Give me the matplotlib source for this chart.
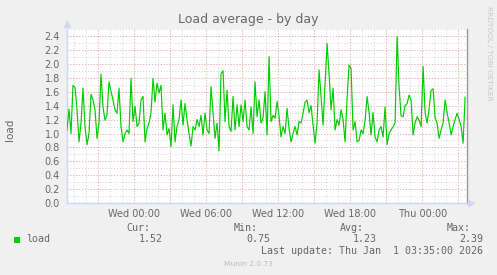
import matplotlib
matplotlib.use("Agg")
import matplotlib.pyplot as plt
import numpy as np

# ---- data (10-minute samples, hours relative to Wed 00:00) ----
start_hour = -5.6
step_hours = 1.0 / 6.0
load = [
    1.05, 1.35, 1.00, 1.69, 1.66, 1.34, 0.88, 1.15, 1.65, 1.10,
    0.84, 1.00, 1.56, 1.48, 1.34, 0.93, 1.15, 1.85, 1.38, 1.19,
    1.27, 1.74, 1.60, 1.48, 1.34, 1.29, 1.65, 1.10, 0.88, 1.00,
    1.05, 1.00, 1.79, 1.17, 1.39, 1.10, 1.15, 1.48, 1.53, 0.88,
    1.07, 1.15, 1.30, 1.79, 1.45, 1.72, 1.58, 1.69, 1.05, 1.29,
    0.98, 1.07, 0.81, 1.41, 0.88, 1.10, 1.20, 1.48, 1.12, 1.43,
    1.20, 1.00, 0.82, 1.10, 1.05, 1.20, 1.10, 1.26, 0.98, 1.29,
    1.05, 1.00, 1.67, 1.30, 0.93, 1.15, 0.75, 1.86, 1.90, 1.17,
    1.62, 1.10, 1.03, 1.53, 1.05, 1.41, 1.10, 1.41, 1.17, 1.48,
    1.10, 1.05, 1.38, 1.00, 1.74, 1.24, 1.48, 1.15, 1.22, 1.60,
    0.98, 2.10, 1.17, 1.26, 1.22, 1.46, 1.25, 0.95, 1.10, 1.00,
    1.36, 1.07, 0.88, 1.00, 1.10, 0.98, 1.17, 1.15, 1.29, 1.45,
    1.48, 1.30, 1.40, 1.12, 0.86, 1.15, 1.91, 1.53, 1.12, 1.70,
    2.29, 1.85, 1.34, 1.65, 1.05, 1.20, 1.12, 1.34, 1.20, 0.88,
    1.50, 1.98, 1.93, 1.05, 1.17, 0.88, 0.90, 1.05, 1.00, 1.19,
    1.53, 1.30, 0.98, 1.30, 0.95, 0.88, 1.05, 1.10, 0.95, 1.38,
    0.84, 1.00, 1.05, 1.10, 1.15, 2.39, 1.67, 1.25, 1.24, 1.40,
    1.43, 1.55, 1.48, 0.98, 1.15, 1.24, 1.19, 1.10, 1.96, 1.30,
    1.15, 1.35, 1.62, 1.64, 1.22, 1.15, 0.93, 1.05, 1.15, 1.48,
    1.30, 1.15, 0.98, 1.10, 1.20, 1.29, 1.20, 1.10, 0.86, 1.52,
]
x_tick_hours = [0, 6, 12, 18, 24]
x_tick_labels = ["Wed 00:00", "Wed 06:00", "Wed 12:00", "Wed 18:00", "Thu 00:00"]
x_end_hour = 27.7
y_max = 2.5
stat_names = ["Cur:", "Min:", "Avg:", "Max:"]
stat_values = ["1.52", "0.75", "1.23", "2.39"]
series_name = "load"
title = "Load average - by day"
last_update = "Last update: Thu Jan  1 03:35:00 2026"
version = "Munin 2.0.73"

W, H = 497, 275
BG = "#F0F0F0"
FONT = "#666666"
AXIS = "#CFD6F8"
GREEN = "#00CC00"

fig = plt.figure(figsize=(W / 100, H / 100), dpi=100, facecolor=BG)

def fx(px):
    return px / W

def fy(py):
    return 1 - py / H

left, right, top, bottom = 67, 466.7, 28.8, 203.3
ax = fig.add_axes([fx(left), fy(bottom), fx(right - left), (bottom - top) / H])
ax.set_facecolor("white")

t = start_hour + step_hours * np.arange(len(load))
ax.set_xlim(start_hour, x_end_hour)
ax.set_ylim(0, y_max)

# grids
minor_y = np.arange(0, y_max + 0.001, 0.1)
major_y = np.arange(0, y_max + 0.001, 0.2)
for v in minor_y:
    ax.axhline(v, color="#D4D4D4", lw=0.7, ls=(0, (1, 2)), zorder=1)
hrs_minor = np.arange(np.ceil(start_hour), x_end_hour, 1)
for h in hrs_minor:
    ax.axvline(h, color="#D4D4D4", lw=0.7, ls=(0, (1, 2)), zorder=1)
for v in major_y:
    ax.axhline(v, color="#F2A8A8", lw=0.7, ls=(0, (1, 2)), zorder=2)
hrs_major = np.arange(-3, x_end_hour, 3)
for h in hrs_major:
    ax.axvline(h, color="#F2A8A8", lw=0.7, ls=(0, (1, 2)), zorder=2)

ax.plot(t, load, color=GREEN, lw=0.85, zorder=5)

# spines
ax.spines["top"].set_visible(False)
ax.spines["left"].set_color(AXIS)
ax.spines["bottom"].set_color(AXIS)
ax.spines["right"].set_color("#999999")
for s in ax.spines.values():
    s.set_linewidth(1.0)

ax.set_yticks(major_y)
ax.set_yticklabels([f"{v:.1f}" for v in major_y])
ax.set_xticks(x_tick_hours)
ax.set_xticklabels(x_tick_labels)
ax.tick_params(axis="both", length=0, labelsize=7, labelcolor=FONT, pad=5)
ax.tick_params(axis="x", pad=4)

# arrows
ax.plot([0], [1.03], marker="^", ms=5, color=AXIS, transform=ax.transAxes, clip_on=False, zorder=6)
ax.plot([1.01], [0], marker=">", ms=5, color=AXIS, transform=ax.transAxes, clip_on=False, zorder=6)

# texts
fig.text(fx(248.5), fy(19), title, ha="center", va="center", fontsize=9, color=FONT)
fig.text(fx(10), fy(130), series_name, ha="center", va="center", rotation=90, fontsize=7.5, color=FONT)
fig.text(fx(488.5), fy(53), "RRDTOOL / TOBI OETIKER", ha="center", va="center", rotation=270,
         fontsize=5.3, color="#C8C8C8")

mono = "DejaVu Sans Mono"
head_right = [150.5, 257.5, 363.5, 470.5]
val_right = [163, 270, 376.5, 483]
for name, xr in zip(stat_names, head_right):
    fig.text(fx(xr), fy(228.3), name, ha="right", va="center", fontsize=7.2, family=mono, color=FONT)
for val, xr in zip(stat_values, val_right):
    fig.text(fx(xr), fy(239.5), val, ha="right", va="center", fontsize=7.2, family=mono, color=FONT)
fig.patches.append(plt.Rectangle((fx(14), fy(242.5)), fx(5.5), 5.5 / H, transform=fig.transFigure,
                                 facecolor=GREEN, edgecolor="none"))
fig.text(fx(26.5), fy(239.5), series_name, ha="left", va="center", fontsize=7.2, family=mono, color=FONT)
fig.text(fx(483), fy(251), last_update, ha="right", va="center", fontsize=7.2, family=mono, color=FONT)
fig.text(fx(248), fy(264.3), version, ha="center", va="center", fontsize=5.4, color="#BBBBBB")

fig.savefig("out.png", dpi=100, facecolor=BG)
